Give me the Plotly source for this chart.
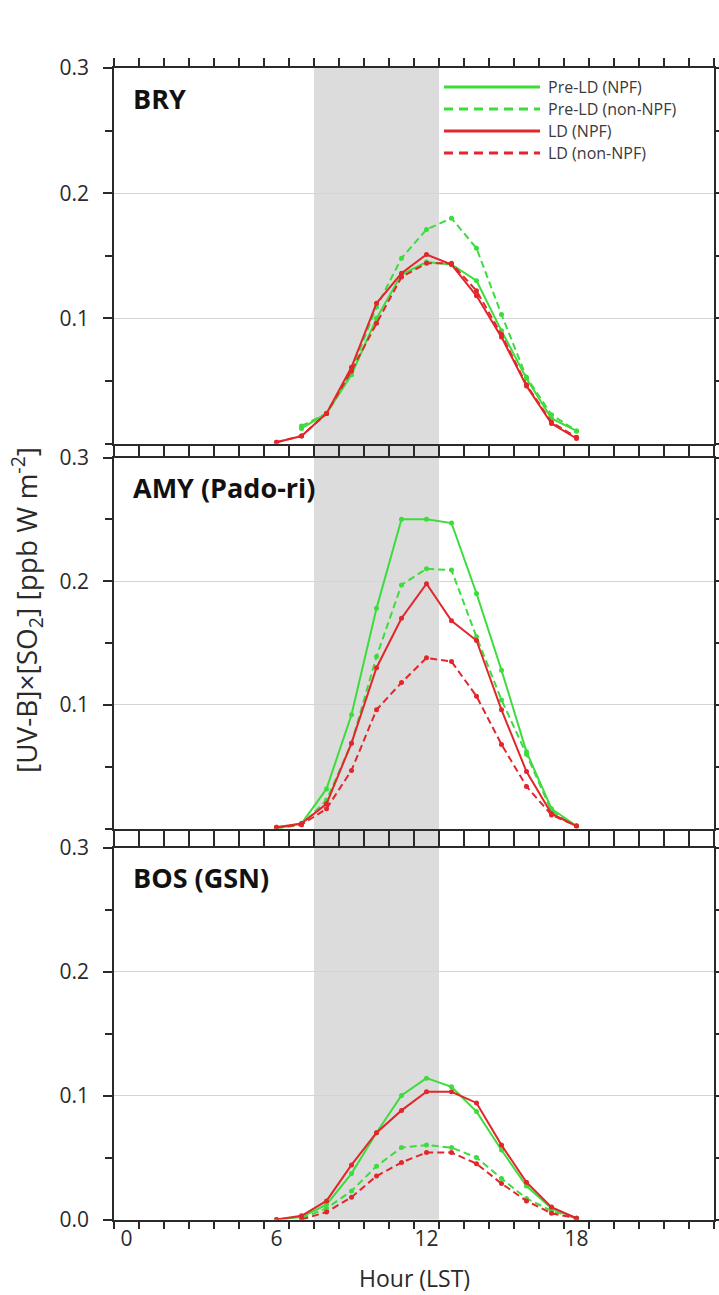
import plotly.graph_objects as go

W, H = 719, 1295

hours = list(range(6, 19))
panel_names = ["BRY", "AMY (Pado-ri)", "BOS (GSN)"]

# BRY
bry_pre_npf = [None, 0.012, 0.024, 0.055, 0.100, 0.135, 0.145, 0.143, 0.130, 0.090, 0.052, 0.020, 0.010]
bry_pre_non = [None, 0.014, 0.024, 0.058, 0.109, 0.148, 0.171, 0.180, 0.156, 0.103, 0.053, 0.023, 0.010]
bry_ld_npf = [0.001, 0.006, 0.024, 0.061, 0.112, 0.136, 0.151, 0.143, 0.118, 0.085, 0.046, 0.016, 0.004]
bry_ld_non = [0.001, 0.006, 0.024, 0.058, 0.096, 0.133, 0.144, 0.144, 0.122, 0.087, 0.047, 0.017, 0.005]
# AMY (Pado-ri)
amy_pre_npf = [0.000, 0.004, 0.032, 0.092, 0.178, 0.250, 0.250, 0.247, 0.190, 0.128, 0.062, 0.016, 0.002]
amy_pre_non = [0.000, 0.003, 0.023, 0.069, 0.139, 0.197, 0.210, 0.209, 0.155, 0.104, 0.060, 0.014, 0.002]
amy_ld_npf = [0.001, 0.004, 0.020, 0.069, 0.130, 0.170, 0.198, 0.168, 0.152, 0.096, 0.046, 0.012, 0.002]
amy_ld_non = [0.001, 0.003, 0.016, 0.047, 0.096, 0.118, 0.138, 0.135, 0.107, 0.068, 0.034, 0.011, 0.002]
# BOS (GSN)
bos_pre_npf = [0.000, 0.002, 0.012, 0.037, 0.070, 0.100, 0.114, 0.107, 0.087, 0.056, 0.027, 0.009, 0.001]
bos_pre_non = [None, 0.001, 0.009, 0.023, 0.043, 0.058, 0.060, 0.058, 0.050, 0.033, 0.017, 0.007, 0.001]
bos_ld_npf = [0.000, 0.003, 0.015, 0.044, 0.070, 0.088, 0.103, 0.103, 0.094, 0.060, 0.030, 0.010, 0.001]
bos_ld_non = [None, 0.000, 0.006, 0.018, 0.035, 0.046, 0.054, 0.054, 0.045, 0.029, 0.015, 0.005, 0.001]

series_labels = ["Pre-LD (NPF)", "Pre-LD (non-NPF)", "LD (NPF)", "LD (non-NPF)"]
panel_data = [
    [bry_pre_npf, bry_pre_non, bry_ld_npf, bry_ld_non],
    [amy_pre_npf, amy_pre_non, amy_ld_npf, amy_ld_non],
    [bos_pre_npf, bos_pre_non, bos_ld_npf, bos_ld_non],
]

x_tickvals = [0, 6, 12, 18]
x_minor = [h + 0.5 for h in range(-1, 24)]
band = (7.5, 12.5)

GREEN = "#3ddc3d"
RED = "#e2262b"
styles = [(GREEN, "solid"), (GREEN, "7px,4px"), (RED, "solid"), (RED, "7px,4px")]

FONT = "Open Sans"
AX = "#2a2a2a"

# panel pixel positions (top, bottom) from top of figure
tops = [68, 457.5, 847.5]
bots = [443.5, 828.5, 1219.5]
xl, xr = 114, 714


def py(px):
    return 1 - px / H


def pxx(px):
    return px / W


fig = go.Figure()
for i, data in enumerate(panel_data):
    xa = "x" if i == 0 else f"x{i+1}"
    ya = "y" if i == 0 else f"y{i+1}"
    for vals, lab, (col, dash) in zip(data, series_labels, styles):
        fig.add_trace(go.Scatter(
            x=hours, y=vals, mode="lines+markers", name=lab,
            line=dict(color=col, width=2, dash=dash),
            marker=dict(size=5, color=col),
            xaxis=xa, yaxis=ya, showlegend=False,
        ))

layout = dict(
    width=W, height=H,
    margin=dict(l=0, r=0, t=0, b=0),
    paper_bgcolor="white", plot_bgcolor="rgba(0,0,0,0)",
    font=dict(family=FONT, color=AX),
    showlegend=False,
)

for i in range(3):
    sx = "" if i == 0 else str(i + 1)
    last = i == 2
    layout["xaxis" + sx] = dict(
        domain=[pxx(xl), pxx(xr)], range=[-0.5, 23.5], anchor="y" + sx,
        tickmode="array", tickvals=x_tickvals, ticks="outside", ticklen=0,
        showticklabels=last, tickfont=dict(size=21, color=AX),
        showline=True, linecolor=AX, linewidth=1.5, mirror="ticks",
        showgrid=False, zeroline=False,
        minor=dict(tickmode="array", tickvals=x_minor, ticks="outside",
                   ticklen=8, tickcolor=AX, tickwidth=1.5, showgrid=False),
        automargin=False,
    )
    if last:
        tv = [0.0, 0.1, 0.2, 0.3]
        mv = [0.05, 0.15, 0.25]
    else:
        tv = [0.1, 0.2, 0.3]
        mv = [0.0, 0.05, 0.15, 0.25]
    layout["yaxis" + sx] = dict(
        domain=[py(bots[i]), py(tops[i])], range=[0, 0.3], anchor="x" + sx,
        tickmode="array", tickvals=tv, tickformat=".1f",
        ticks="outside", ticklen=9, tickwidth=1.5, tickcolor=AX,
        tickfont=dict(size=21, color=AX), ticklabelstandoff=10,
        showline=True, linecolor=AX, linewidth=1.5, mirror="ticks",
        showgrid=True, gridcolor="#d4d4d4", gridwidth=1, zeroline=False,
        minor=dict(tickmode="array", tickvals=mv, ticks="outside",
                   ticklen=7, tickcolor=AX, tickwidth=1.5, showgrid=False),
        automargin=False,
    )
    # overlay axis adding the inner half of the crossing y ticks
    layout["yaxis" + str(i + 4)] = dict(
        overlaying="y" + sx, anchor="x" + sx, side="left", range=[0, 0.3],
        tickmode="array", tickvals=[0.0, 0.1, 0.2, 0.3], ticks="inside",
        ticklen=6, tickwidth=1.5, tickcolor=AX, showticklabels=False,
        showline=False, showgrid=False, zeroline=False,
        minor=dict(tickmode="array", tickvals=[0.05, 0.15, 0.25], ticks="inside",
                   ticklen=4, tickcolor=AX, tickwidth=1.5, showgrid=False),
        automargin=False,
    )

shapes = [dict(type="rect", xref="x", yref="paper", x0=band[0], x1=band[1],
               y0=py(bots[2]), y1=py(tops[0]), fillcolor="#dcdcdc",
               line=dict(width=0), layer="below")]

annotations = []
for i, nm in enumerate(panel_names):
    annotations.append(dict(
        text=f"<b>{nm}</b>", xref="paper", yref="paper",
        x=pxx(131), y=py(tops[i] + 30), xanchor="left", yanchor="middle",
        showarrow=False, font=dict(size=27, color="#111111", family=FONT)))

# legend (drawn in panel 1, top right)
leg_rows = [87, 109, 131, 153]
for (col, dash), lab, ry in zip(styles, series_labels, leg_rows):
    shapes.append(dict(type="line", xref="paper", yref="paper",
                       x0=pxx(444), x1=pxx(540), y0=py(ry), y1=py(ry),
                       line=dict(color=col, width=3,
                                 dash="solid" if dash == "solid" else "9px,6px")))
    annotations.append(dict(text=lab, xref="paper", yref="paper",
                            x=pxx(547), y=py(ry), xanchor="left", yanchor="middle",
                            showarrow=False, borderpad=0,
                            font=dict(size=16, color="#3a3a3a")))

annotations.append(dict(text="Hour (LST)", xref="paper", yref="paper",
                        x=pxx(415), y=py(1278), xanchor="center", yanchor="middle",
                        showarrow=False, font=dict(size=23, color=AX)))
annotations.append(dict(text="[UV-B]×[SO<sub>2</sub>] [ppb W m<sup>-2</sup>]",
                        xref="paper", yref="paper", textangle=-90,
                        x=pxx(27), y=py(610), xanchor="center", yanchor="middle",
                        showarrow=False, font=dict(size=28, color=AX)))

layout["shapes"] = shapes
layout["annotations"] = annotations
fig.update_layout(**layout)
fig.write_html("out.html")
